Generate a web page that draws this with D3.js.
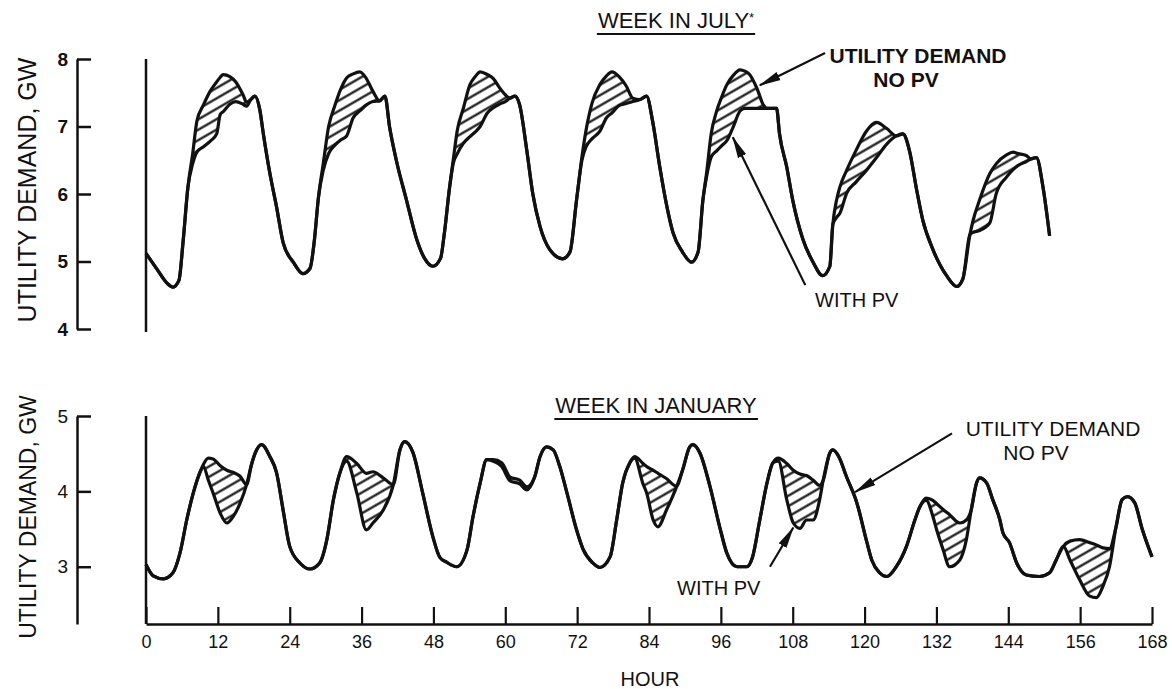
<!DOCTYPE html>
<html>
<head>
<meta charset="utf-8">
<script src="https://cdn.jsdelivr.net/npm/d3@7"></script>
<style>
        body { margin: 0; background: #fff; }
        svg text { font-family: "Liberation Sans", Arial, sans-serif; fill: #111; }
</style>
</head>
<body>
<svg id="chart" width="1172" height="689"></svg>
<script>
// utility demand, one week in July and one in January
// hatched band = demand met by PV (no PV minus with PV)

const hourTicks = [0, 12, 24, 36, 48, 60, 72, 84, 96, 108, 120, 132, 144, 156, 168];
const julyTicks = [4, 5, 6, 7, 8];
const janTicks = [3, 4, 5];

// July, GW
const julyHours = [
        0, 1.8, 3.5, 4.5, 5.5, 6.2, 7,
        7.8, 8.5, 9.6, 10.7, 11.8, 12.4, 12.9, 14, 15, 16.2, 16.8, 17.5,
        18.2, 19, 19.6, 20.7, 21.8, 22.9, 24.6, 26.2, 27.4, 28.1, 28.8,
        29.6, 30.5, 31.5, 32.5, 33.5, 34.6, 35.7, 36.8, 37.9, 39,
        39.9, 40.7, 41.8, 43.5, 45.2, 46.5, 47.9, 49.2, 49.8, 50.7,
        51.3, 52, 53, 54.1, 55, 55.8, 57, 58, 59, 60, 60.8,
        61.6, 62.4, 63.6, 64.6, 65.8, 67.4, 69.6, 70.8, 71.9,
        72.8, 73.5, 74.5, 75.8, 76.9, 77.8, 79, 80.2, 81.3, 82.5,
        83.6, 84.6, 85.8, 87, 88, 89.6, 91.1, 92.2, 93,
        93.6, 94.4, 95.3, 96.2, 97, 98, 99.2, 100, 100.8, 102, 103.1, 103.7,
        105.3, 105.8, 107, 108, 109.7, 111.4, 113, 114.2,
        114.7, 115.3, 115.9, 117, 118.6, 120.3, 122, 123.7, 125.3,
        126.4, 127.5, 128.7, 129.7, 131.4, 133.7, 135.4, 136.4, 137.6,
        138.1, 139.2, 140.9, 142, 143.7, 144.8, 145.6, 147, 147.8,
        148.7, 149.8, 150.9
];
const julyNoPV = [
        5.12, 4.89, 4.68, 4.62, 4.72, 5.3, 6.1,
        6.6, 7.08, 7.32, 7.52, 7.66, 7.73, 7.77, 7.74, 7.66, 7.47, 7.36, 7.4,
        7.45, 7.25, 6.89, 6.3, 5.81, 5.28, 4.99, 4.82, 4.9, 5.3, 5.95,
        6.45, 7.0, 7.3, 7.55, 7.72, 7.78, 7.81, 7.71, 7.52, 7.38,
        7.45, 6.98, 6.5, 5.91, 5.33, 5.05, 4.93, 5.05, 5.4, 6.1,
        6.5, 6.95, 7.27, 7.62, 7.74, 7.81, 7.77, 7.71, 7.58, 7.47, 7.42,
        7.45, 7.32, 6.64, 6.0, 5.52, 5.18, 5.04, 5.14, 5.91,
        6.55, 6.95, 7.35, 7.62, 7.75, 7.81, 7.74, 7.6, 7.42, 7.4,
        7.45, 7.08, 6.4, 5.81, 5.43, 5.14, 4.99, 5.14, 5.91,
        6.3, 6.9, 7.23, 7.45, 7.62, 7.75, 7.84, 7.82, 7.77, 7.57, 7.32, 7.27,
        7.27, 6.89, 6.4, 5.91, 5.33, 4.99, 4.79, 4.93,
        5.55, 5.9, 6.11, 6.35, 6.65, 6.93, 7.06, 6.97, 6.86,
        6.89, 6.64, 6.06, 5.62, 5.18, 4.79, 4.63, 4.74, 5.4,
        5.6, 5.91, 6.3, 6.45, 6.58, 6.62, 6.6, 6.57, 6.52,
        6.54, 6.1, 5.38
];
const julyWithPV = [
        5.12, 4.89, 4.68, 4.62, 4.72, 5.3, 6.1,
        6.45, 6.62, 6.7, 6.78, 6.89, 7.18, 7.22, 7.33, 7.37, 7.33, 7.3, 7.4,
        7.45, 7.25, 6.89, 6.3, 5.81, 5.28, 4.99, 4.82, 4.9, 5.3, 5.95,
        6.35, 6.6, 6.72, 6.8, 6.86, 7.13, 7.23, 7.32, 7.37, 7.38,
        7.45, 6.98, 6.5, 5.91, 5.33, 5.05, 4.93, 5.05, 5.4, 6.1,
        6.45, 6.6, 6.75, 6.85, 6.92, 7.0, 7.2, 7.28, 7.33, 7.37, 7.42,
        7.45, 7.32, 6.64, 6.0, 5.52, 5.18, 5.04, 5.14, 5.91,
        6.5, 6.7, 6.82, 6.93, 7.13, 7.2, 7.31, 7.34, 7.37, 7.4,
        7.45, 7.08, 6.4, 5.81, 5.43, 5.14, 4.99, 5.14, 5.91,
        6.25, 6.55, 6.64, 6.72, 6.79, 6.98, 7.23, 7.27, 7.27, 7.27, 7.27, 7.27,
        7.27, 6.89, 6.4, 5.91, 5.33, 4.99, 4.79, 4.93,
        5.55, 5.65, 5.72, 6.01, 6.18, 6.35, 6.54, 6.74, 6.86,
        6.89, 6.64, 6.06, 5.62, 5.18, 4.79, 4.63, 4.74, 5.4,
        5.43, 5.46, 5.57, 6.01, 6.25, 6.36, 6.42, 6.48, 6.52,
        6.54, 6.1, 5.38
];

// January, GW
const janHours = [
        0, 1.2, 2.9, 4.5, 5.7, 6.8, 7.9, 9,
        9.6, 10.4, 11.2, 12.4, 13.5, 14.6, 15.7, 16.8,
        17.6, 18.2, 19.3, 20.7, 21.8, 22.9, 24, 25.7, 27.4, 29, 30.2, 31.3, 32.4,
        33.5, 35.2, 36.8, 37.9, 39.6, 41.3,
        42.4, 43.2, 44.6, 46.2, 47.9, 49.1, 50.2, 51.9, 53.6, 54.6, 55.8, 56.9,
        58, 59.4, 60.8, 62.4, 63.6, 64.9,
        65.8, 66.9, 68, 69.1, 70.3, 71.9, 73, 74.6, 75.8, 77.5, 78.6, 79.6, 80.8,
        81.6, 83, 83.6, 84.7, 85.5, 86.9, 88.6,
        89.6, 90.8, 91.3, 92.5, 94.2, 95.8, 97, 98.7, 100.3, 101.3, 102.5, 103.7, 104.7,
        105.6, 107, 108.1, 109.2, 110.3, 111.4, 112.5, 113.1,
        114.2, 114.7, 115.7, 117, 118.7, 120.4, 121.2, 122.5, 123.7, 125.3, 127, 128.4, 129.2,
        130.3, 131.4, 132, 133.1, 134.2, 135.9, 137, 137.8,
        138.7, 139.2, 140.4, 141.4, 142.6, 143.1, 144.2, 145.4, 147, 149.2, 150.9, 152, 153.2,
        154.3, 155.9, 157.6, 158.7, 159.8, 160.9, 162,
        163, 163.9, 165.1, 166.4, 168
];
const janNoPV = [
        3.03, 2.88, 2.84, 2.92, 3.19, 3.62, 3.98, 4.25,
        4.36, 4.44, 4.43, 4.34, 4.28, 4.25, 4.2, 4.09,
        4.35, 4.5, 4.62, 4.46, 4.25, 3.75, 3.27, 3.05, 2.97, 3.05, 3.36, 3.89, 4.25,
        4.46, 4.37, 4.24, 4.26, 4.18, 4.09,
        4.55, 4.66, 4.51, 3.98, 3.4, 3.12, 3.06, 3.0, 3.22, 3.66, 4.11, 4.42,
        4.42, 4.38, 4.19, 4.15, 4.06, 4.19,
        4.46, 4.59, 4.55, 4.33, 3.98, 3.49, 3.23, 3.05, 2.99, 3.13, 3.62, 4.11, 4.38,
        4.46, 4.37, 4.33, 4.28, 4.24, 4.17, 4.07,
        4.28, 4.59, 4.62, 4.51, 4.06, 3.53, 3.18, 3.0, 3.0, 3.13, 3.62, 4.11, 4.38,
        4.44, 4.37, 4.28, 4.23, 4.21, 4.15, 4.08, 4.15,
        4.51, 4.55, 4.46, 4.19, 3.85, 3.32, 3.09, 2.92, 2.87, 3.0, 3.27, 3.62, 3.79,
        3.91, 3.88, 3.84, 3.76, 3.69, 3.58, 3.62, 3.75,
        4.11, 4.18, 4.11, 3.89, 3.62, 3.45, 3.32, 3.05, 2.89, 2.87, 2.92, 3.09, 3.27,
        3.34, 3.36, 3.32, 3.29, 3.25, 3.24, 3.53,
        3.89, 3.93, 3.85, 3.49, 3.13
];
const janWithPV = [
        3.03, 2.88, 2.84, 2.92, 3.19, 3.62, 3.98, 4.25,
        4.33, 4.15, 3.98, 3.71, 3.58, 3.67, 3.84, 4.09,
        4.35, 4.5, 4.62, 4.46, 4.25, 3.75, 3.27, 3.05, 2.97, 3.05, 3.36, 3.89, 4.25,
        4.4, 3.98, 3.49, 3.58, 3.75, 4.09,
        4.55, 4.66, 4.51, 3.98, 3.4, 3.12, 3.06, 3.0, 3.22, 3.66, 4.11, 4.42,
        4.4, 4.33, 4.14, 4.1, 4.02, 4.19,
        4.46, 4.59, 4.55, 4.33, 3.98, 3.49, 3.23, 3.05, 2.99, 3.13, 3.62, 4.11, 4.38,
        4.44, 4.1, 3.98, 3.62, 3.53, 3.75, 4.06,
        4.28, 4.59, 4.62, 4.51, 4.06, 3.53, 3.18, 3.0, 3.0, 3.13, 3.62, 4.11, 4.38,
        4.4, 3.89, 3.58, 3.51, 3.62, 3.62, 3.89, 4.15,
        4.51, 4.55, 4.46, 4.19, 3.85, 3.32, 3.09, 2.92, 2.87, 3.0, 3.27, 3.62, 3.79,
        3.88, 3.67, 3.5, 3.23, 3.0, 3.09, 3.36, 3.75,
        4.11, 4.18, 4.11, 3.89, 3.62, 3.45, 3.32, 3.05, 2.89, 2.87, 2.92, 3.09, 3.27,
        3.09, 2.83, 2.61, 2.59, 2.74, 3.0, 3.53,
        3.89, 3.93, 3.85, 3.49, 3.13
];

const ink = "#111";
const svg = d3.select("#chart");

const x = d3.scaleLinear().domain([0, 168]).range([146, 1152]);
const yJuly = d3.scaleLinear().domain([4, 8]).range([329, 59]);
const yJan = d3.scaleLinear().domain([2.24, 5]).range([624, 416]);

const defs = svg.append("defs");
defs.append("pattern")
        .attr("id", "hatch")
        .attr("patternUnits", "userSpaceOnUse")
        .attr("width", 9).attr("height", 9)
        .attr("patternTransform", "rotate(-30)")
        .append("line")
        .attr("x1", 0).attr("y1", 4.5).attr("x2", 9).attr("y2", 4.5)
        .attr("stroke", ink).attr("stroke-width", 2.2);
defs.append("marker")
        .attr("id", "head")
        .attr("markerUnits", "userSpaceOnUse")
        .attr("viewBox", "0 0 22 10")
        .attr("markerWidth", 22).attr("markerHeight", 10)
        .attr("refX", 21).attr("refY", 5)
        .attr("orient", "auto")
        .append("path")
        .attr("d", "M0,0.5 L22,5 L0,9.5 Z")
        .attr("fill", ink);

class DemandPanel {

        constructor(svg, hours, noPV, withPV, y) {
                this.lineWidth = 3.2;
                this.svg = svg;
                this.hours = hours;
                this.noPV = noPV;
                this.withPV = withPV;
                this.y = y;
                this.draw();
        }

        draw() {
                const y = this.y;
                const pts = this.hours.map((h, i) => ({ h: h, a: this.noPV[i], b: this.withPV[i] }));

                this.svg.append("path")
                        .datum(pts)
                        .attr("fill", "url(#hatch)")
                        .attr("d", d3.area().curve(d3.curveMonotoneX)
                                .x(d => x(d.h)).y0(d => y(d.b)).y1(d => y(d.a)));

                [d => d.b, d => d.a].forEach(f => {
                        this.svg.append("path")
                                .datum(pts)
                                .attr("fill", "none")
                                .attr("stroke", ink)
                                .attr("stroke-width", this.lineWidth)
                                .attr("stroke-linejoin", "round")
                                .attr("d", d3.line().curve(d3.curveMonotoneX)
                                        .x(d => x(d.h)).y(d => y(f(d))));
                });
        }
}

function yAxis(y, ticks, bold) {
        const g = svg.append("g")
                .attr("transform", "translate(77,0)")
                .call(d3.axisLeft(y).tickValues(ticks).tickSize(-14).tickSizeOuter(0)
                        .tickPadding(9).tickFormat(d3.format("d")));
        g.select(".domain").attr("stroke", ink).attr("stroke-width", 2.5);
        g.selectAll(".tick line").attr("stroke", ink).attr("stroke-width", 2.5);
        g.selectAll(".tick text")
                .attr("font-size", 19)
                .attr("font-weight", bold ? "bold" : "normal")
                .attr("fill", ink);
}

function yTitle(cy, size) {
        svg.append("text")
                .attr("transform", "translate(36," + cy + ") rotate(-90)")
                .attr("text-anchor", "middle")
                .attr("font-size", size)
                .text("UTILITY DEMAND, GW");
}

function title(label, cx, baseline, size) {
        return svg.append("text")
                .attr("class", "title")
                .attr("x", cx).attr("y", baseline)
                .attr("text-anchor", "middle")
                .attr("font-size", size)
                .text(label);
}

function note(lines, anchor, px, baseline, size, weight) {
        const t = svg.append("text")
                .attr("font-size", size)
                .attr("font-weight", weight)
                .attr("text-anchor", anchor);
        lines.forEach((s, i) => {
                t.append("tspan").attr("x", px[i]).attr("y", baseline + i * 24).text(s);
        });
}

function arrow(y, tail, tip) {
        svg.append("line")
                .attr("x1", x(tail[0])).attr("y1", y(tail[1]))
                .attr("x2", x(tip[0])).attr("y2", y(tip[1]))
                .attr("stroke", ink).attr("stroke-width", 2.2)
                .attr("marker-end", "url(#head)");
}

// ---- top panel: July
yAxis(yJuly, julyTicks, true);
yTitle(190, 25);
svg.append("line")
        .attr("x1", x(0)).attr("x2", x(0))
        .attr("y1", yJuly(8)).attr("y2", yJuly(4) + 3)
        .attr("stroke", ink).attr("stroke-width", 2.5);
new DemandPanel(svg, julyHours, julyNoPV, julyWithPV, yJuly);

const julyTitle = title("WEEK IN JULY", 676, 28, 22);
julyTitle.append("tspan").attr("font-size", 13).attr("dy", -6).text("*");

note(["UTILITY DEMAND", "NO PV"], "middle", [918, 906], 63, 21, "bold");
note(["WITH PV"], "start", [815], 307, 20, "normal");
arrow(yJuly, [113.4, 8.09], [102.5, 7.61]);
arrow(yJuly, [110.1, 4.65], [98.0, 6.84]);

// ---- bottom panel: January
yAxis(yJan, janTicks, false);
yTitle(517, 23);
svg.append("line")
        .attr("x1", x(0)).attr("x2", x(0))
        .attr("y1", yJan(5)).attr("y2", yJan.range()[0])
        .attr("stroke", ink).attr("stroke-width", 2.5);

const xg = svg.append("g")
        .attr("transform", "translate(0," + yJan.range()[0] + ")")
        .call(d3.axisBottom(x).tickValues(hourTicks).tickSize(-17).tickSizeOuter(0).tickPadding(11));
xg.select(".domain").attr("stroke", ink).attr("stroke-width", 2.5);
xg.selectAll(".tick line").attr("stroke", ink).attr("stroke-width", 2.2);
xg.selectAll(".tick text").attr("font-size", 18).attr("fill", ink);

svg.append("text")
        .attr("x", 650).attr("y", 686)
        .attr("text-anchor", "middle")
        .attr("font-size", 20)
        .text("HOUR");

new DemandPanel(svg, janHours, janNoPV, janWithPV, yJan);

title("WEEK IN JANUARY", 656, 413, 22);

note(["UTILITY DEMAND", "NO PV"], "middle", [1053, 1036], 436, 21, "normal");
note(["WITH PV"], "start", [677], 595, 20, "normal");
arrow(yJan, [134.6, 4.77], [118.4, 3.99]);
arrow(yJan, [104.2, 3.0], [108.1, 3.52]);

// underlines under the two titles, sized to the text
svg.selectAll("text.title").each(function() {
        const b = this.getBBox();
        svg.append("line")
                .attr("x1", b.x - 1).attr("x2", b.x + b.width + 1)
                .attr("y1", b.y + b.height + 1).attr("y2", b.y + b.height + 1)
                .attr("stroke", ink).attr("stroke-width", 2);
});
</script>
</body>
</html>
